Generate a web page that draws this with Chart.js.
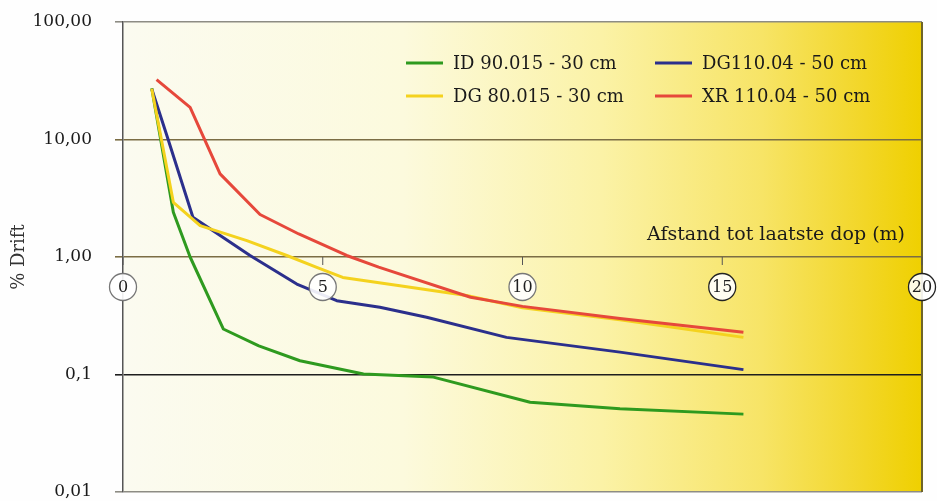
<!DOCTYPE html>
<html>
<head>
<meta charset="utf-8">
<script src="https://cdn.jsdelivr.net/npm/chart.js@4/dist/chart.umd.min.js"></script>
<style>
  html, body { margin: 0; padding: 0; background: #fff; overflow: hidden; }
  #wrap { width: 937px; height: 501px; position: relative; }
</style>
</head>
<body>
<div id="wrap"><canvas id="drift"></canvas></div>
<script>
// --- data ---
const xTicks = [0, 5, 10, 15, 20];
const yTicks = [0.01, 0.1, 1, 10, 100];
const yTickLabels = ['0,01', '0,1', '1,00', '10,00', '100,00'];
const xTitle = 'Afstand tot laatste dop (m)';
const yTitle = '% Drift';

const seriesNames = ['ID 90.015 - 30 cm', 'DG110.04 - 50 cm', 'DG 80.015 - 30 cm', 'XR 110.04 - 50 cm'];

const idDist  = [0.72, 1.26, 1.68, 2.51, 3.4, 4.43, 6.02, 7.77, 10.19, 12.44, 15.53];
const idDrift = [27.3, 2.4, 1.0, 0.244, 0.175, 0.131, 0.101, 0.095, 0.058, 0.051, 0.046];

const dg110Dist  = [0.72, 1.13, 1.75, 3.18, 4.35, 5.35, 6.43, 7.6, 9.6, 12.44, 15.53];
const dg110Drift = [26.9, 10, 2.18, 1.03, 0.589, 0.425, 0.373, 0.307, 0.207, 0.155, 0.110];

const dg80Dist  = [0.72, 1.26, 1.93, 3.1, 4.1, 4.85, 5.5, 6.93, 8.6, 10.0, 12.44, 15.53];
const dg80Drift = [27, 2.92, 1.85, 1.38, 1.03, 0.817, 0.67, 0.57, 0.47, 0.37, 0.293, 0.207];

const xrDist  = [0.84, 1.68, 2.43, 3.43, 4.4, 5.6, 6.4, 8.7, 10.0, 12.44, 15.53];
const xrDrift = [32.3, 18.8, 5.1, 2.3, 1.57, 1.03, 0.82, 0.454, 0.38, 0.30, 0.229];

const colors = ['#2e9a1f', '#2b2f8c', '#f4d21e', '#e6483b'];

const pts = (xs, ys) => xs.map((x, i) => ({ x: x, y: ys[i] }));

const FONT = 'DejaVu Serif';

// background, frame, circled x ticks, x title, legend
const decor = {
  id: 'decor',
  beforeDraw(chart) {
    const { ctx, chartArea: a } = chart;
    ctx.save();
    ctx.fillStyle = '#fefefe';
    ctx.fillRect(0, 0, chart.width, chart.height);
    const g = ctx.createLinearGradient(a.left, 0, a.right, 0);
    g.addColorStop(0, '#fbfbf0');
    g.addColorStop(0.35, '#fcfadd');
    g.addColorStop(0.6, '#fbf2a6');
    g.addColorStop(0.8, '#f7e466');
    g.addColorStop(0.93, '#f2d626');
    g.addColorStop(1, '#efd000');
    ctx.fillStyle = g;
    ctx.fillRect(a.left, a.top, a.right - a.left, a.bottom - a.top);
    ctx.restore();
  },
  afterDatasetsDraw(chart) {
    const { ctx, chartArea: a } = chart;
    const xs = chart.scales.x, ys = chart.scales.y;
    const y1 = ys.getPixelForValue(1);
    ctx.save();

    // right frame
    ctx.strokeStyle = '#6e6428';
    ctx.lineWidth = 2;
    ctx.beginPath();
    ctx.moveTo(a.right, a.top);
    ctx.lineTo(a.right, a.bottom);
    ctx.stroke();

    // x axis ticks at y = 1 with circled numbers
    xTicks.forEach((v, i) => {
      const px = xs.getPixelForValue(v);
      ctx.strokeStyle = '#555';
      ctx.lineWidth = 1;
      ctx.beginPath();
      ctx.moveTo(px, y1);
      ctx.lineTo(px, y1 + 8);
      ctx.stroke();
      ctx.beginPath();
      ctx.arc(px, y1 + 30, 13.5, 0, Math.PI * 2);
      ctx.fillStyle = 'rgba(255,255,255,0.9)';
      ctx.fill();
      ctx.strokeStyle = i >= 3 ? '#222' : '#777';
      ctx.lineWidth = 1.3;
      ctx.stroke();
      ctx.fillStyle = '#1e1e1e';
      ctx.font = '16px "' + FONT + '"';
      ctx.textAlign = 'center';
      ctx.textBaseline = 'middle';
      ctx.fillText(String(v), px, y1 + 31);
    });

    // x axis title above the axis line
    ctx.fillStyle = '#1a1a1a';
    ctx.font = '19px "' + FONT + '"';
    ctx.textAlign = 'right';
    ctx.textBaseline = 'alphabetic';
    ctx.fillText(xTitle, a.right - 17, y1 - 17);

    // legend, two columns
    const cols = [a.left + 283, a.left + 532];
    const rows = [a.top + 41, a.top + 74];
    ctx.font = '18px "' + FONT + '"';
    chart.data.datasets.forEach((ds, i) => {
      const cx = cols[i % 2], cy = rows[Math.floor(i / 2)];
      ctx.strokeStyle = ds.borderColor;
      ctx.lineWidth = 3;
      ctx.beginPath();
      ctx.moveTo(cx, cy);
      ctx.lineTo(cx + 37, cy);
      ctx.stroke();
      ctx.fillStyle = '#1a1a1a';
      ctx.textAlign = 'left';
      ctx.textBaseline = 'middle';
      ctx.fillText(ds.label, cx + 47, cy + 1);
    });
    ctx.restore();
  }
};

const ds = (i, xs, ys, order) => ({
  label: seriesNames[i],
  data: pts(xs, ys),
  borderColor: colors[i],
  backgroundColor: colors[i],
  borderWidth: 3,
  pointRadius: 0,
  tension: 0,
  borderJoinStyle: 'round',
  order: order
});

new Chart(document.getElementById('drift'), {
  type: 'line',
  data: {
    datasets: [
      ds(0, idDist, idDrift, 3),
      ds(1, dg110Dist, dg110Drift, 2),
      ds(2, dg80Dist, dg80Drift, 1),
      ds(3, xrDist, xrDrift, 0)
    ]
  },
  plugins: [decor],
  options: {
    responsive: true,
    maintainAspectRatio: false,
    animation: false,
    layout: { padding: { left: 0, top: 22, right: 15, bottom: 9 } },
    plugins: {
      legend: { display: false },
      tooltip: { enabled: false }
    },
    scales: {
      x: {
        type: 'linear',
        min: 0,
        max: 20,
        display: false
      },
      y: {
        type: 'logarithmic',
        min: 0.01,
        max: 100,
        afterBuildTicks: (s) => { s.ticks = yTicks.map(v => ({ value: v })); },
        afterFit: (s) => {
          s.width = 123;
          s.paddingTop = 0;
          s.paddingBottom = 0;
        },
        ticks: {
          padding: 23,
          color: '#1a1a1a',
          font: { family: FONT, size: 17 },
          callback: (v) => yTickLabels[yTicks.indexOf(v)]
        },
        grid: {
          tickLength: 8,
          lineWidth: 1.6,
          color: (c) => {
            const v = c.tick && c.tick.value;
            if (v === 0.1) return '#1e1e1e';
            if (v === 1 || v === 10) return '#7b6d44';
            return '#8d8c84';
          }
        },
        border: { color: '#555', width: 1.5 },
        title: {
          display: true,
          text: yTitle,
          color: '#333',
          font: { family: FONT, size: 18 },
          padding: { top: 9, bottom: 0 }
        }
      }
    }
  }
});
</script>
</body>
</html>
